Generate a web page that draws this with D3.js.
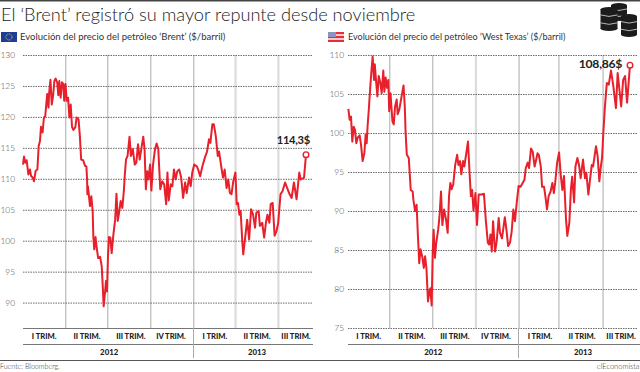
<!DOCTYPE html>
<html><head><meta charset="utf-8">
<script src="https://cdnjs.cloudflare.com/ajax/libs/d3/7.8.5/d3.min.js"></script>
<style>
html,body{margin:0;padding:0;background:#fff;overflow:hidden}
svg{display:block}
text{font-family:Lato,"Open Sans",sans-serif;fill:#333}
</style></head><body>
<svg id="c" width="640" height="372"></svg>
<script>
const titleText = "El ‘Brent’ registró su mayor repunte desde noviembre";
const brentTitle = "Evolución del precio del petróleo ‘Brent’ ($/barril)";
const wtiTitle = "Evolución del precio del petróleo ‘West Texas’ ($/barril)";
const sourceText = "Fuente: Bloomberg.";
const brandText = "elEconomista";
const quarterLabels = ["I TRIM.","II TRIM.","III TRIM.","IV TRIM.","I TRIM.","II TRIM.","III TRIM."];
const yearLabels = ["2012","2013"];
const brentTicks = [90,95,100,105,110,115,120,125,130];
const wtiTicks = [75,80,85,90,95,100,105,110];
const brentLast = "114,3$";
const wtiLast = "108,86$";
// x unit: trading sessions since the first day of 2012
const brentQuarterEnds = [64.7,129,194.8,260.6,324.4,390];
const wtiQuarterEnds = [63.2,129,195,261,322,389.5];
const brentSeries = [[0,112.3],[1.5,113.6],[3.6,112.6],[5.6,113],[8.2,110.7],[10.7,111.5],[12.2,110.5],[14.8,110.2],[16.8,109.6],[19.4,111.3],[22,111.5],[24,115.3],[26,116.1],[27.5,118.4],[30,117.5],[32,119.9],[34,120.1],[37,123.7],[39,121.5],[40,123.9],[42,126],[44,122],[46,123.4],[48,125.8],[50,126.2],[52.5,125.5],[54,123.5],[55.6,125.8],[57.6,123.1],[59.7,125.6],[61.7,125.3],[63,122.6],[65,125.3],[67,122.6],[69,123.1],[71,119.9],[73,122],[75,118.4],[77,117.9],[80,118.3],[82,119.9],[85,119.6],[87,116.9],[89,113.1],[92,113],[95,112.1],[97,112],[98,110],[98.5,107.5],[99.4,108.8],[102.5,105.6],[104.5,107.2],[106.6,104.8],[107.6,100.7],[109,98.6],[111,100.6],[112.7,98.9],[115,97.2],[118,97.4],[120.4,95.9],[122,92.7],[123.4,89.4],[125.5,91.6],[127,93.5],[128.5,91.8],[130,97.4],[131.6,100.6],[133.6,100.5],[135.7,98],[138,100.7],[141,103.4],[143,107.6],[145,103.2],[147.4,104.8],[149.4,106.4],[152,105.3],[154.5,108.3],[155.5,110.2],[157.6,113.1],[160,113.7],[163,116.8],[165,113.7],[168,114.8],[171,112.3],[173.4,112.6],[176,115.6],[178.5,113.1],[181,114.8],[184,116.8],[186,114.8],[188,108.3],[190,111.2],[192,109.9],[194.4,112.3],[196.4,108.1],[199,112.3],[202,114.8],[204.5,115.7],[207,114.8],[210,108.3],[213,109.6],[216,109.1],[219,105.9],[221,111],[223,106.5],[226,109.1],[228.5,108.8],[231,111.5],[233.6,109.9],[236,111.2],[239,111.5],[242,110.2],[245,106.9],[248,109.4],[250.5,107.7],[254,110.2],[256.6,108.8],[259,111],[262,112.3],[266,112],[268,111.5],[271,110.4],[274.4,112],[278.5,113.5],[281.6,114.4],[284.6,116.4],[286.7,115.8],[289.7,118.8],[292,118.8],[295,116.9],[298,113.7],[300,114.4],[304,111.5],[306,110.2],[308.6,111.5],[311.5,108.5],[314,109.9],[316.6,107.7],[319,107.5],[321.7,109.6],[325,111],[327,105.9],[329,106.1],[331,104.2],[333,104.8],[335.5,99.9],[337,97.8],[339.6,100.2],[343,103.4],[346,100.2],[349,105.1],[352,104.2],[355,102.1],[357,104.5],[360.5,104.8],[362.5,102.4],[366,102.9],[369,100.5],[371.7,102.9],[374,104.2],[377,102.9],[379,105.9],[382,106.1],[385,100.8],[388,101.6],[390.5,102.9],[394,107.5],[397,108],[401,109.4],[405,108.3],[408,107.5],[411,106.9],[414.5,109.4],[418.6,106.7],[422.7,111],[425,109.9],[430,110.2],[433,113.9]];
const wtiSeries = [[0.5,103.1],[2.5,101.7],[4.6,102.1],[6.6,98.9],[8.7,100.8],[10.7,100.4],[12.7,98.7],[14.8,99.4],[17.8,99.7],[19.9,98.5],[22.4,96.4],[25,97.4],[27,99.8],[28.6,98.7],[30,100.9],[32,103.2],[34,105.8],[36,108.1],[37.7,109.8],[39.8,106.8],[41,108.8],[43,106.6],[45,104.7],[47,107.3],[49.5,106.4],[51.5,105.1],[54,108],[55.6,105.3],[57.6,107.1],[59.7,105.8],[61.7,106.8],[63,102.8],[65,105.1],[68,101.5],[70,101.1],[72,103.4],[74.5,104.3],[76,102.4],[78.5,103],[82,104.7],[85,106.1],[87,103.2],[88,100.4],[89,98.7],[90,97.2],[93,96.8],[96,92.7],[99,92.5],[100,91.5],[102.6,90],[105,90.8],[107,86.8],[109,83.3],[111,85.1],[114,84],[116,82.7],[118,84.2],[120,82.7],[122.4,78.4],[124.5,79.7],[126,80.1],[128,77.9],[129.6,84.6],[131,87.6],[133,84],[135,85.9],[138,87.6],[140,89.3],[142.3,92.5],[144.4,88.2],[147,90.2],[150,88.9],[152.5,87.2],[154.6,91.9],[156.6,93.6],[158.6,92.8],[161,93.4],[164,95.9],[167,97.2],[169,95.9],[171.4,96.4],[173.4,94.7],[176,96.4],[178,95.7],[180.6,97.2],[183.6,98.9],[186,94.9],[188,91.9],[190,92.7],[192,90],[195,92.3],[197.4,88.2],[200,92.1],[203,92.1],[208,92.2],[211,88.7],[214,85.9],[216,85.7],[218,87],[220,84.8],[222,88.7],[225,84.8],[227.5,86.1],[230.6,89.1],[232.6,87.2],[235.6,86.5],[240,89.2],[243,87.2],[245,85.5],[248,86],[250.5,87.4],[253,90.2],[255.5,88.7],[258,90.9],[261,93.2],[264,93.1],[266,93.4],[270,94],[272,95.5],[275,96.2],[277,95.5],[280,98],[282.6,97.6],[285.6,95.7],[288,96.6],[290,97.4],[292,97.2],[295,95.7],[297,93.1],[300,93.1],[302,91.9],[304.5,90.2],[307,91.9],[310,92.5],[312.7,93.6],[315,92.3],[317,93.6],[320,96.2],[323,97.5],[325.4,94.7],[328,92.7],[330.5,94.5],[333.6,88.9],[335.6,86.8],[338.7,88.5],[341,92.7],[343,94.4],[346,91.1],[348,95.7],[351,96.8],[353.5,95.9],[356,94.2],[359.6,96.6],[362.6,94.2],[364.7,94.9],[367.8,92.1],[370,93.8],[373,95.9],[375,95.7],[379.5,98.3],[382,97],[384.6,93.8],[386.6,95.5],[388.7,96.8],[390.7,100],[393,103.2],[396,106.4],[399,106.2],[402.4,108],[406,106],[410,103.2],[412.6,107.7],[418,103.4],[421,106.8],[424,107.3],[427,103.9],[429,106],[431.5,108.7]];

const RED = "#e8202c";
const svg = d3.select("#c");

svg.append("rect").attr("x",0).attr("y",0).attr("width",640).attr("height",1.5).attr("fill","#444");
svg.append("rect").attr("x",0).attr("y",360).attr("width",640).attr("height",1).attr("fill","#555");

svg.append("text").text(titleText).attr("x",1).attr("y",21).attr("font-size",18.2).attr("font-weight",300).style("fill","#222");
svg.append("text").text(sourceText).attr("x",0).attr("y",369).attr("font-size",7.1).attr("font-weight",300);
svg.append("text").text(brandText).attr("x",639.5).attr("y",369).attr("text-anchor","end").attr("font-size",7.5).attr("font-weight",300);

function panel(o){
  const x = d3.scaleLinear().domain(o.xDomain).range(o.xRange);
  const y = d3.scaleLinear().domain(o.yDomain).range(o.yRange);
  const g = svg.append("g");

  g.append("text").text(o.title).attr("x",o.titleX).attr("y",40).attr("font-size",o.titleSize);

  const xAxis = d3.axisBottom(x).tickValues(o.quarterEnds).tickSize(o.yRange[0]-55).tickFormat("");
  const xg = g.append("g").attr("transform","translate(0,55)").call(xAxis);
  xg.select(".domain").remove();
  xg.selectAll(".tick line").each(function(d,i){
    const thick = o.thick.includes(i);
    d3.select(this).attr("stroke",thick?"#dcdcdc":"#ababab").attr("stroke-width",thick?2.2:1);
  });
  xg.attr("transform",`translate(0,55)`);
  xg.selectAll(".tick line").attr("y2",o.axisY-55);

  const yAxis = d3.axisLeft(y).tickValues(o.ticks).tickSize(0).tickPadding(o.xRange0-o.labelX);
  const yg = g.append("g").attr("transform",`translate(${o.xRange0},0)`).call(yAxis);
  yg.select(".domain").remove();
  yg.selectAll(".tick line").attr("x2",o.gridEnd-o.xRange0).attr("stroke","#6b6b6b").attr("stroke-width",1).attr("stroke-dasharray","1.5,1");
  yg.selectAll(".tick text").attr("font-size",8.4).attr("font-weight",300).style("font-family","Lato,sans-serif").style("fill","#444");

  const line = d3.line().x(d=>x(d[0])).y(d=>y(d[1])).curve(d3.curveLinear);
  g.append("path").datum(o.series).attr("d",line).attr("fill","none").attr("stroke",RED).attr("stroke-width",2).attr("stroke-linejoin","round");

  const last = o.series[o.series.length-1];
  g.append("circle").attr("cx",x(last[0])).attr("cy",y(last[1])).attr("r",2.8).attr("fill","#fff").attr("stroke",RED).attr("stroke-width",1.4);
  g.append("text").text(o.lastLabel).attr("x",x(last[0])+o.lastDx).attr("y",y(last[1])+o.lastDy).attr("text-anchor","end").attr("font-size",o.lastSize).attr("font-weight",700).style("fill","#222").style("letter-spacing","-0.3px");

  const ends = [o.xDomain[0]].concat(o.quarterEnds,[o.qEnd]);
  quarterLabels.forEach((t,i)=>{
    g.append("text").text(t).attr("x",x((ends[i]+ends[i+1])/2)+o.qDx[i]).attr("y",339).attr("text-anchor","middle").attr("font-size",7.6).attr("font-weight",900).style("fill","#222");
  });
  [[o.xDomain[0],o.quarterEnds[3]],[o.quarterEnds[3],o.qEnd]].forEach((r,i)=>{
    g.append("text").text(yearLabels[i]).attr("x",(x(r[0])+Math.min(x(r[1]),o.gridEnd))/2+o.yearDx[i]).attr("y",355).attr("text-anchor","middle").attr("font-size",7.8).attr("font-weight",900).style("fill","#222");
  });
  g.append("line").attr("x1",o.axisX).attr("x2",o.gridEnd+o.axisExtra).attr("y1",344.5).attr("y2",344.5).attr("stroke","#777");
  if(o.topAxis) g.append("line").attr("x1",o.axisX).attr("x2",o.gridEnd).attr("y1",328.5).attr("y2",328.5).attr("stroke","#777");
  const sx = Math.floor(x(o.quarterEnds[3]))+.5;
  g.append("line").attr("x1",sx).attr("x2",sx).attr("y1",328).attr("y2",358).attr("stroke","#aaa");
}

panel({title:brentTitle,titleX:20,titleSize:9.55,series:brentSeries,xDomain:[0,433],xRange:[23,306],xRange0:23,yDomain:[90,130],yRange:[302.6,55],
  ticks:brentTicks,labelX:15,gridEnd:313,axisY:328,quarterEnds:brentQuarterEnds,qEnd:443,thick:[4,5],lastLabel:brentLast,lastSize:11.2,lastDx:4,lastDy:-11,
  qDx:[0,.7,2,-.8,.8,.5,.8],yearDx:[1,4],topAxis:true,axisX:23,axisExtra:0});
panel({title:wtiTitle,titleX:348,titleSize:9.05,series:wtiSeries,xDomain:[0,431.5],xRange:[348,630],xRange0:348,yDomain:[75,110],yRange:[328,55],
  ticks:wtiTicks,labelX:344,gridEnd:638,axisY:328,quarterEnds:wtiQuarterEnds,qEnd:443,thick:[2],lastLabel:wtiLast,lastSize:12.2,lastDx:-8,lastDy:3,
  qDx:[0,1,1,-1,1.5,1.5,1],yearDx:[0,5],topAxis:false,axisX:348,axisExtra:2});

const eu = svg.append("g").attr("transform","translate(1,32)");
eu.append("rect").attr("width",16).attr("height",10).attr("fill","#1f3f94");
eu.append("circle").attr("cx",8).attr("cy",5).attr("r",3).attr("fill","none").attr("stroke","#d8c23a").attr("stroke-width",1).attr("stroke-dasharray","1,.7");
const us = svg.append("g").attr("transform","translate(328,32)");
d3.range(5).forEach(i=>us.append("rect").attr("y",i*2).attr("width",16).attr("height",2).attr("fill",i%2?"#f3c9c9":"#e0303a"));
us.append("rect").attr("width",8).attr("height",5).attr("fill","#8b94c0");

function barrel(bx,by,w,h){
  const b = svg.append("g");
  b.append("rect").attr("x",bx).attr("y",by+2).attr("width",w).attr("height",h-4).attr("fill","#1c1c1c");
  b.append("ellipse").attr("cx",bx+w/2).attr("cy",by+2.5).attr("rx",w/2).attr("ry",2.5).attr("fill","#1c1c1c");
  b.append("ellipse").attr("cx",bx+w/2).attr("cy",by+h-2.5).attr("rx",w/2).attr("ry",2.5).attr("fill","#1c1c1c");
  [0.33,0.66].forEach(f=>b.append("path").attr("d",`M${bx},${by+h*f}q${w/2},3 ${w},0`).attr("fill","none").attr("stroke","#ddd").attr("stroke-width",.8));
}
barrel(611,3,16,18);
barrel(600.5,7,17,24);
barrel(621,14,16,23);
</script>
</body></html>
